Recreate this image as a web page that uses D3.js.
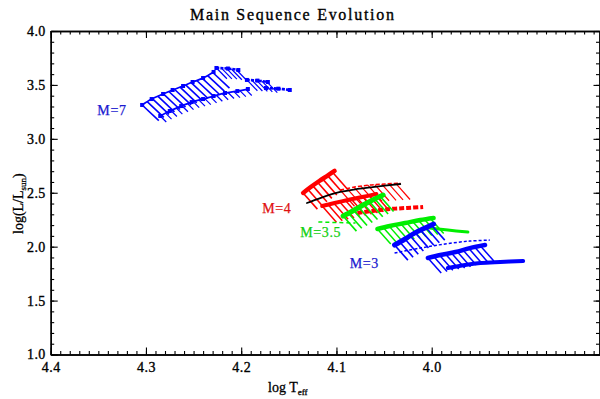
<!DOCTYPE html>
<html>
<head>
<meta charset="utf-8">
<script src="https://cdn.jsdelivr.net/npm/d3@7"></script>
<style>
  body { margin: 0; background: #fff; }
  svg { display: block; }
  text { font-family: "Liberation Serif", "DejaVu Serif", serif; }
</style>
</head>
<body>
<svg id="chart" width="600" height="399"></svg>
<script>
// ---- data (log Teff, log L/Lsun) ----
const xTicks = [4.4, 4.3, 4.2, 4.1, 4.0];
const yTicks = [1.0, 1.5, 2.0, 2.5, 3.0, 3.5, 4.0];

// M=7
const m7Track1 = [[4.304,3.314],[4.294,3.369],[4.282,3.416],[4.272,3.453],[4.261,3.490],[4.251,3.527],[4.240,3.564],[4.229,3.620]];
const m7Track2 = [[4.285,3.212],[4.275,3.258],[4.263,3.304],[4.252,3.341],[4.240,3.369],[4.229,3.397],[4.217,3.425],[4.204,3.443],[4.193,3.462]];
const m7Tails = [
  [[4.226,3.657],[4.214,3.652],[4.203,3.638]],
  [[4.194,3.546],[4.183,3.540],[4.172,3.527]],
  [[4.174,3.471],[4.161,3.465],[4.149,3.453]]
];

// M=4
const m4Track1 = [[4.135,2.498],[4.127,2.553],[4.118,2.609],[4.110,2.655],[4.102,2.702]];
const m4Track2 = [[4.115,2.377],[4.102,2.405],[4.088,2.433],[4.073,2.460],[4.058,2.488]];
const m4Track3 = [[4.078,2.312],[4.062,2.331],[4.044,2.349],[4.026,2.359],[4.009,2.368]];
const m4Upper = [[4.096,2.525],[4.081,2.553],[4.065,2.572],[4.049,2.581],[4.033,2.590]];
const m4Black = [[4.131,2.405],[4.117,2.451],[4.096,2.507],[4.078,2.535],[4.062,2.553],[4.033,2.581]];

// M=3.5
const m35Track1 = [[4.093,2.284],[4.083,2.331],[4.072,2.386],[4.062,2.433],[4.051,2.479]];
const m35Track2 = [[4.057,2.164],[4.044,2.192],[4.028,2.219],[4.012,2.247],[3.998,2.266]];
const m35Track3 = [[4.002,2.173],[3.983,2.154],[3.962,2.136]];
const m35Dash = [[4.119,2.229],[4.080,2.219]];

// M=3
const m3Track1 = [[4.039,2.015],[4.028,2.071],[4.018,2.126],[4.007,2.173],[3.998,2.210]];
const m3Track2 = [[4.004,1.895],[3.991,1.923],[3.975,1.950],[3.960,1.987],[3.944,2.015]];
const m3Track3 = [[3.983,1.802],[3.965,1.830],[3.949,1.848],[3.928,1.858],[3.904,1.867]];
const m3Dash = [[4.039,1.941],[4.012,1.987],[3.986,2.025],[3.960,2.052],[3.939,2.061]];

// hatch offsets (dT, dL) per mass
const m7Hatch = [-0.0175, -0.145];
const m7HatchShort = [-0.0063, -0.056];
const m7TailHatch = [-0.011, -0.10];
const m4Hatch = [-0.015, -0.15];
const m35Hatch = [-0.014, -0.14];
const m3Hatch = [-0.014, -0.14];

const massLabels = ['M=7', 'M=4', 'M=3.5', 'M=3'];
const labelPos = [[4.351, 3.221], [4.178, 2.312], [4.138, 2.090], [4.086, 1.802]];

const blue = '#0000ff', red = '#ff0000', green = '#00ee00';
const labelColors = ['#1a1ad0', '#e01010', '#10d010', '#1a1ad0'];

// ---- layout ----
const padL = 50.7, padR = 599.5, padT = 31, padB = 354.5;
const svg = d3.select('#chart');

const x = d3.scaleLinear().domain([4.4, 4.4 - (padR - padL) / 952.5]).range([padL, padR]);
const y = d3.scaleLinear().domain([1.0, 4.0]).range([padB, padT]);

const line = d3.line().x(d => x(d[0])).y(d => y(d[1])).curve(d3.curveCatmullRom);

// ---- axes ----
const minorX = d3.range(0, 60).map(i => +(4.4 - i * 0.01).toFixed(2)).filter(v => x(v) <= padR - 1);
const minorY = d3.range(0, 31).map(i => +(1.0 + i * 0.1).toFixed(1));

const axG = svg.append('g').attr('class', 'axes');

function addAxis(axis, transform, ticks, size, labels) {
  const g = axG.append('g').attr('transform', transform)
    .call(axis.tickValues(ticks).tickSizeInner(size).tickSizeOuter(0)
      .tickPadding(labels ? 8 : 0)
      .tickFormat(labels ? d3.format('.1f') : ''));
  g.selectAll('path.domain').attr('stroke', '#000').attr('stroke-width', 1.4);
  g.selectAll('.tick line').attr('stroke', '#000').attr('stroke-width', 1.1);
  g.selectAll('.tick text').attr('fill', '#000').attr('font-size', 14)
    .attr('stroke', '#000').attr('stroke-width', 0.35)
    .attr('font-family', '"Liberation Serif", serif').attr('letter-spacing', 0.4);
  return g;
}

// bottom
addAxis(d3.axisBottom(x), `translate(0,${padB})`, minorX, -3.5, false);
addAxis(d3.axisBottom(x), `translate(0,${padB})`, xTicks, -7, true);
// top
addAxis(d3.axisTop(x), `translate(0,${padT})`, minorX, -3.5, false);
addAxis(d3.axisTop(x), `translate(0,${padT})`, xTicks, -7, false);
// left
addAxis(d3.axisLeft(y), `translate(${padL},0)`, minorY, -3.5, false);
const yl = addAxis(d3.axisLeft(y), `translate(${padL},0)`, yTicks, -7, true);
yl.selectAll('.tick text').attr('x', -5);
// right
addAxis(d3.axisRight(y), `translate(${padR},0)`, minorY, -3.5, false);
addAxis(d3.axisRight(y), `translate(${padR},0)`, yTicks, -6, false);

// ---- titles ----
svg.append('text')
  .attr('x', 292).attr('y', 20)
  .attr('text-anchor', 'middle')
  .attr('font-size', 16)
  .attr('stroke', '#000').attr('stroke-width', 0.35)
  .attr('textLength', 204).attr('lengthAdjust', 'spacing')
  .text('Main Sequence Evolution');

const xt = svg.append('text')
  .attr('x', 268).attr('y', 392)
  .attr('font-size', 14)
  .attr('stroke', '#000').attr('stroke-width', 0.3);
xt.append('tspan').text('log T');
xt.append('tspan').attr('font-size', 9).attr('dy', 3).text('eff');

const yt = svg.append('text')
  .attr('transform', 'translate(23,234) rotate(-90)')
  .attr('font-size', 14)
  .attr('stroke', '#000').attr('stroke-width', 0.3);
yt.append('tspan').text('log(L/L');
yt.append('tspan').attr('font-size', 9).attr('dy', 3).text('sun');
yt.append('tspan').attr('dy', -3).text(')');

// ---- tracks ----
const plot = svg.append('g');

function hatches(data, vec, color, spacing, width) {
  const path = plot.append('path').attr('d', line(data)).attr('fill', 'none').attr('stroke', 'none');
  const node = path.node();
  const len = node.getTotalLength();
  const dx = x(data[0][0] + vec[0]) - x(data[0][0]);
  const dy = y(data[0][1] + vec[1]) - y(data[0][1]);
  const pts = d3.range(0, len + 0.01, spacing).map(l => node.getPointAtLength(l));
  plot.selectAll(null).data(pts).enter().append('line')
    .attr('x1', p => p.x).attr('y1', p => p.y)
    .attr('x2', p => p.x + dx).attr('y2', p => p.y + dy)
    .attr('stroke', color).attr('stroke-width', width);
  path.remove();
}

function track(data, color, width, dash) {
  plot.append('path').attr('d', line(data))
    .attr('fill', 'none').attr('stroke', color)
    .attr('stroke-width', width)
    .attr('stroke-linecap', dash ? 'butt' : 'round')
    .attr('stroke-dasharray', dash || null);
}

function squares(data, color) {
  plot.selectAll(null).data(data).enter().append('rect')
    .attr('x', d => x(d[0]) - 2).attr('y', d => y(d[1]) - 2)
    .attr('width', 4).attr('height', 4).attr('fill', color);
}

// M=7
hatches(m7Track1, m7Hatch, blue, 6, 1.6);
hatches(m7Track2, m7HatchShort, blue, 6, 1.2);
track(m7Track1, blue, 1.8);
track(m7Track2, blue, 1.8);
squares(m7Track1, blue);
squares(m7Track2, blue);
m7Tails.slice(0, 2).forEach(t => hatches(t, m7TailHatch, blue, 5, 1.2));
m7Tails.forEach(t => { track(t, blue, 2.6, '3,1'); squares(t, blue); });

// M=4
hatches(m4Track1, m4Hatch, red, 6, 1.6);
hatches(m4Upper, m4Hatch, red, 7, 1.2);
hatches(m4Track2, m4Hatch, red, 6, 1.5);
track(m4Track1, red, 4.5);
track(m4Track2, red, 4);
track(m4Upper, red, 1.5, '4,2');
track(m4Track3, red, 4, '5,2');
track(m4Black, '#000', 1.8);

// M=3.5
hatches(m35Track1, m35Hatch, green, 6, 1.6);
hatches(m35Track2, m35Hatch, green, 6, 1.5);
track(m35Track1, green, 5);
track(m35Track2, green, 4.5);
track(m35Track3, green, 3);
track(m35Dash, green, 1.5, '4,3');

// M=3
hatches(m3Track1, m3Hatch, blue, 6, 1.6);
hatches(m3Track2, m3Hatch, blue, 6, 1.5);
track(m3Track1, blue, 5);
track(m3Track2, blue, 4.5);
track(m3Track3, blue, 4);
track(m3Dash, blue, 1.5, '3,2');

// ---- labels ----
svg.selectAll('text.mass').data(massLabels).enter().append('text')
  .attr('class', 'mass')
  .attr('x', (d, i) => x(labelPos[i][0]))
  .attr('y', (d, i) => y(labelPos[i][1]))
  .attr('font-size', 14).attr('letter-spacing', 0.6)
  .attr('fill', (d, i) => labelColors[i])
  .attr('stroke', (d, i) => labelColors[i]).attr('stroke-width', 0.25)
  .text(d => d);
</script>
</body>
</html>
